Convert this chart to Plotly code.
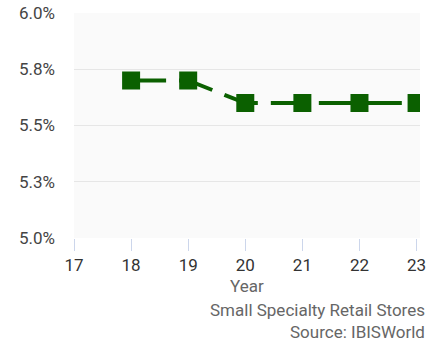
import plotly.graph_objects as go

years = [18, 19, 20, 21, 22, 23]
values = [5.70, 5.70, 5.60, 5.60, 5.60, 5.60]
x_ticks = [17, 18, 19, 20, 21, 22, 23]
y_ticks = [5.0, 5.25, 5.5, 5.75, 6.0]
y_tick_labels = ["5.0%", "5.3%", "5.5%", "5.8%", "6.0%"]

green = "#0b6000"
font = "Roboto"

fig = go.Figure()
fig.add_trace(go.Scatter(
    x=years, y=values, mode="lines+markers",
    line=dict(color=green, width=4, dash="35px,13px"),
    marker=dict(symbol="square", size=18, color=green, line=dict(width=0)),
    hoverinfo="skip", showlegend=False,
))

fig.update_layout(
    width=443, height=347,
    margin=dict(l=74, r=23, t=13, b=109),
    paper_bgcolor="white", plot_bgcolor="#fafafa",
    font=dict(family=font, size=17, color="#444"),
    xaxis=dict(range=[17, 23.06], tickvals=x_ticks, ticktext=[str(v) for v in x_ticks],
               showgrid=False, zeroline=False, ticks="outside", ticklen=12,
               tickcolor="#ccd6eb", tickwidth=1, showline=False, automargin=False,
               tickfont=dict(size=17, color="#333")),
    yaxis=dict(range=[5.0, 6.0], tickvals=y_ticks, ticktext=y_tick_labels,
               showgrid=True, gridcolor="#e6e6e6", gridwidth=1, zeroline=False,
               ticks="", ticklabelstandoff=18, automargin=False,
               tickfont=dict(size=17, color="#444")),
    annotations=[
        dict(text="Year", xref="paper", yref="paper", x=0.5, y=-0.2136,
             xanchor="center", yanchor="middle", showarrow=False,
             font=dict(size=17, color="#666")),
        dict(text="Small Specialty Retail Stores", xref="paper", yref="paper", x=1, y=-0.3195,
             xanchor="right", yanchor="middle", xshift=7, showarrow=False,
             font=dict(size=17, color="#666")),
        dict(text="Source: IBISWorld", xref="paper", yref="paper", x=1, y=-0.418,
             xanchor="right", yanchor="middle", xshift=7, showarrow=False,
             font=dict(size=17, color="#666")),
    ],
)

fig.write_html("out.html")
